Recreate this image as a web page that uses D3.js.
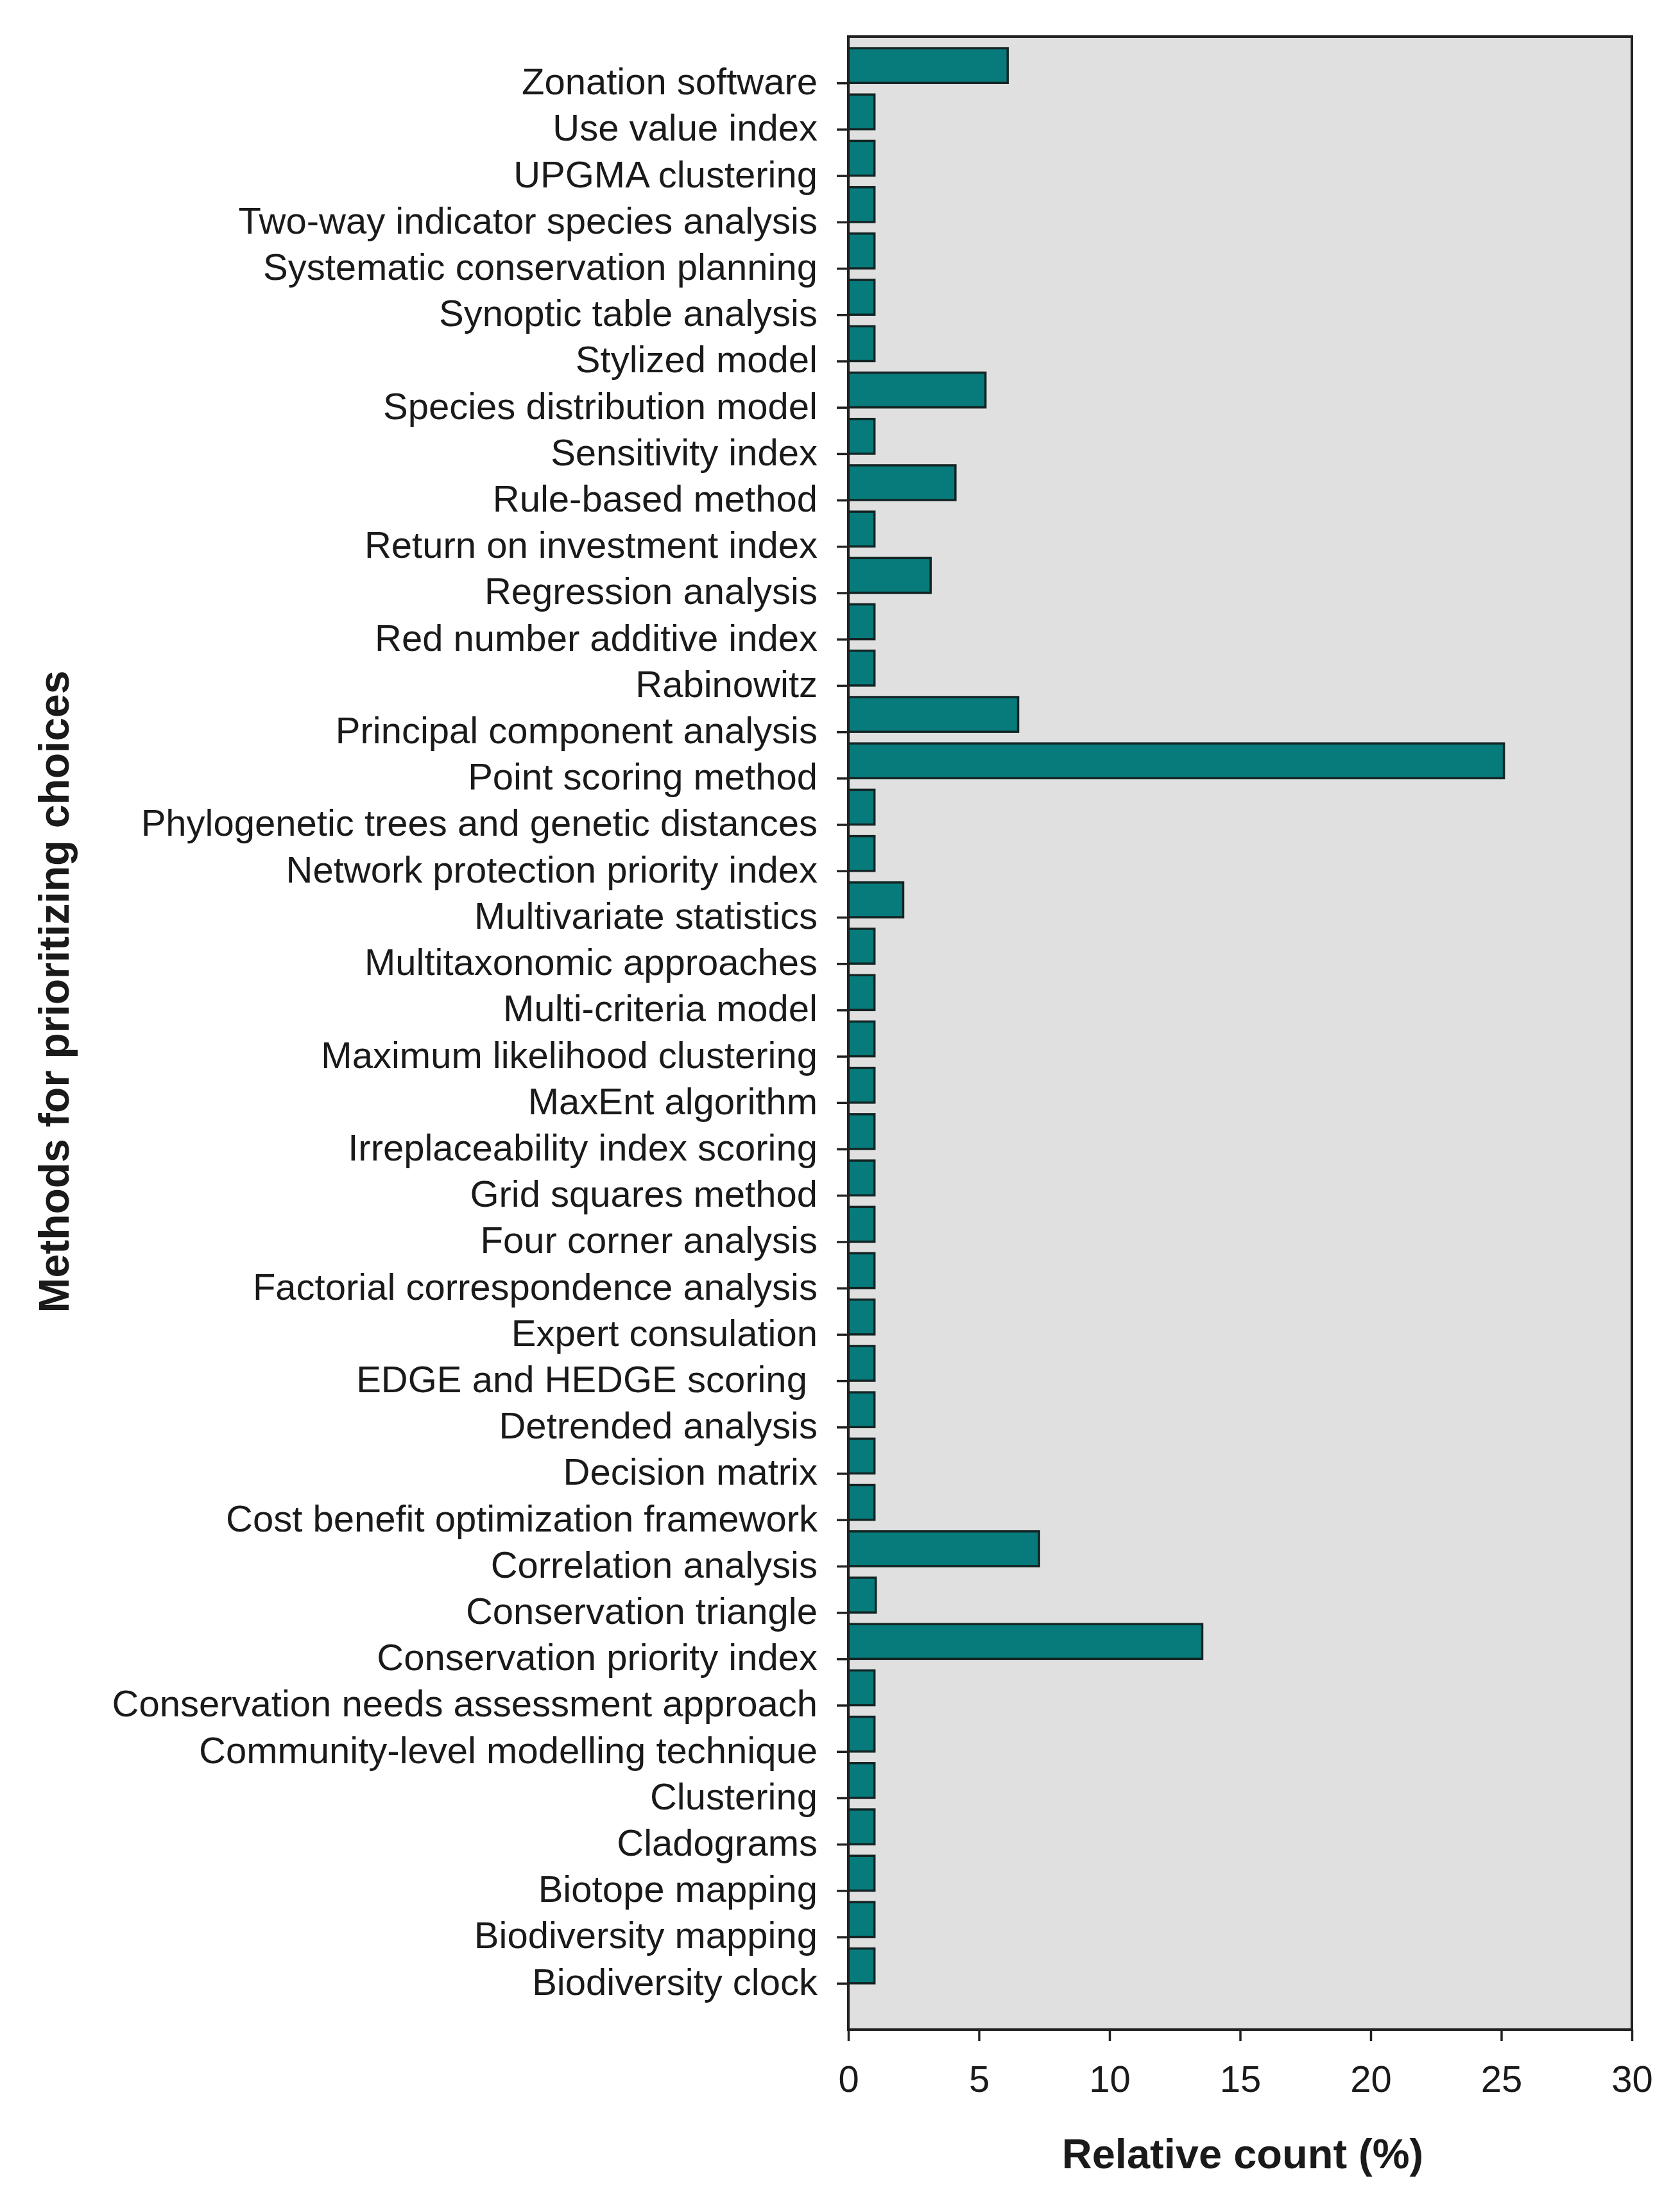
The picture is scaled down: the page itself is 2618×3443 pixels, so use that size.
<!DOCTYPE html>
<html>
<head>
<meta charset="utf-8">
<script src="https://cdn.jsdelivr.net/npm/d3@7"></script>
<style>
  body { margin: 0; background: #ffffff; }
  text { font-family: "Liberation Sans", Arial, sans-serif; fill: #1a1a1a; }
</style>
</head>
<body>
<svg id="chart"></svg>
<script>
// methods, top to bottom as in the figure
const methods = [
  "Zonation software", "Use value index", "UPGMA clustering",
  "Two-way indicator species analysis", "Systematic conservation planning",
  "Synoptic table analysis", "Stylized model", "Species distribution model",
  "Sensitivity index", "Rule-based method", "Return on investment index",
  "Regression analysis", "Red number additive index", "Rabinowitz",
  "Principal component analysis", "Point scoring method",
  "Phylogenetic trees and genetic distances", "Network protection priority index",
  "Multivariate statistics", "Multitaxonomic approaches", "Multi-criteria model",
  "Maximum likelihood clustering", "MaxEnt algorithm",
  "Irreplaceability index scoring", "Grid squares method", "Four corner analysis",
  "Factorial correspondence analysis", "Expert consulation",
  "EDGE and HEDGE scoring ", "Detrended analysis", "Decision matrix",
  "Cost benefit optimization framework", "Correlation analysis",
  "Conservation triangle", "Conservation priority index",
  "Conservation needs assessment approach", "Community-level modelling technique",
  "Clustering", "Cladograms", "Biotope mapping", "Biodiversity mapping",
  "Biodiversity clock"
];

const relCount = [
  6.1, 1, 1, 1, 1, 1, 1, 5.25, 1, 4.1, 1, 3.15, 1, 1, 6.5, 25.1,
  1, 1, 2.1, 1, 1, 1, 1, 1, 1, 1, 1, 1, 1, 1, 1, 1, 7.3, 1.05, 13.55,
  1, 1, 1, 1, 1, 1, 1
];

const xTicks = [0, 5, 10, 15, 20, 25, 30];
const xTitle = "Relative count (%)";
const yTitle = "Methods for prioritizing choices";

const W = 2618, H = 3443;
const plot = {left: 1322, right: 2543, top: 57, bottom: 3162};

const svg = d3.select("#chart").attr("width", W).attr("height", H);

const x = d3.scaleLinear().domain([0, 30]).range([plot.left, plot.right]);
const y = d3.scalePoint().domain(methods).range([plot.top, plot.bottom]).padding(1);
const barH = y.step() * 0.75;

// plot background
svg.append("rect")
  .attr("x", plot.left).attr("y", plot.top)
  .attr("width", plot.right - plot.left).attr("height", plot.bottom - plot.top)
  .attr("fill", "#e0e0e0");

// bars sit just above their tick
svg.append("g").selectAll("rect")
  .data(methods)
  .enter().append("rect")
  .attr("x", x(0))
  .attr("y", d => y(d) - barH)
  .attr("width", (d, i) => x(relCount[i]) - x(0))
  .attr("height", barH)
  .attr("fill", "#077b7b")
  .attr("stroke", "#142424")
  .attr("stroke-width", 3.5);

// frame
svg.append("rect")
  .attr("x", plot.left).attr("y", plot.top)
  .attr("width", plot.right - plot.left).attr("height", plot.bottom - plot.top)
  .attr("fill", "none")
  .attr("stroke", "#222")
  .attr("stroke-width", 4);

// left axis
const yAxis = svg.append("g")
  .attr("transform", "translate(" + plot.left + ",0)")
  .call(d3.axisLeft(y).tickSize(18).tickPadding(30));
yAxis.select(".domain").remove();
yAxis.selectAll(".tick line").attr("stroke", "#222").attr("stroke-width", 3.5);
yAxis.selectAll(".tick text")
  .attr("font-size", 58)
  .attr("dy", "0.3em")
  .style("white-space", "pre")
  .attr("fill", "#1a1a1a");

// bottom axis
const xAxis = svg.append("g")
  .attr("transform", "translate(0," + plot.bottom + ")")
  .call(d3.axisBottom(x).tickValues(xTicks).tickSize(18).tickPadding(38));
xAxis.select(".domain").remove();
xAxis.selectAll(".tick line").attr("stroke", "#222").attr("stroke-width", 3.5);
xAxis.selectAll(".tick text")
  .attr("font-size", 58)
  .attr("fill", "#1a1a1a");

// axis titles
svg.append("text")
  .attr("x", (plot.left + plot.right) / 2 + 4)
  .attr("y", 3378)
  .attr("text-anchor", "middle")
  .attr("font-size", 65)
  .attr("font-weight", "bold")
  .text(xTitle);

svg.append("text")
  .attr("transform", "translate(107," + 1545 + ") rotate(-90)")
  .attr("text-anchor", "middle")
  .attr("font-size", 66)
  .attr("font-weight", "bold")
  .text(yTitle);
</script>
</body>
</html>
